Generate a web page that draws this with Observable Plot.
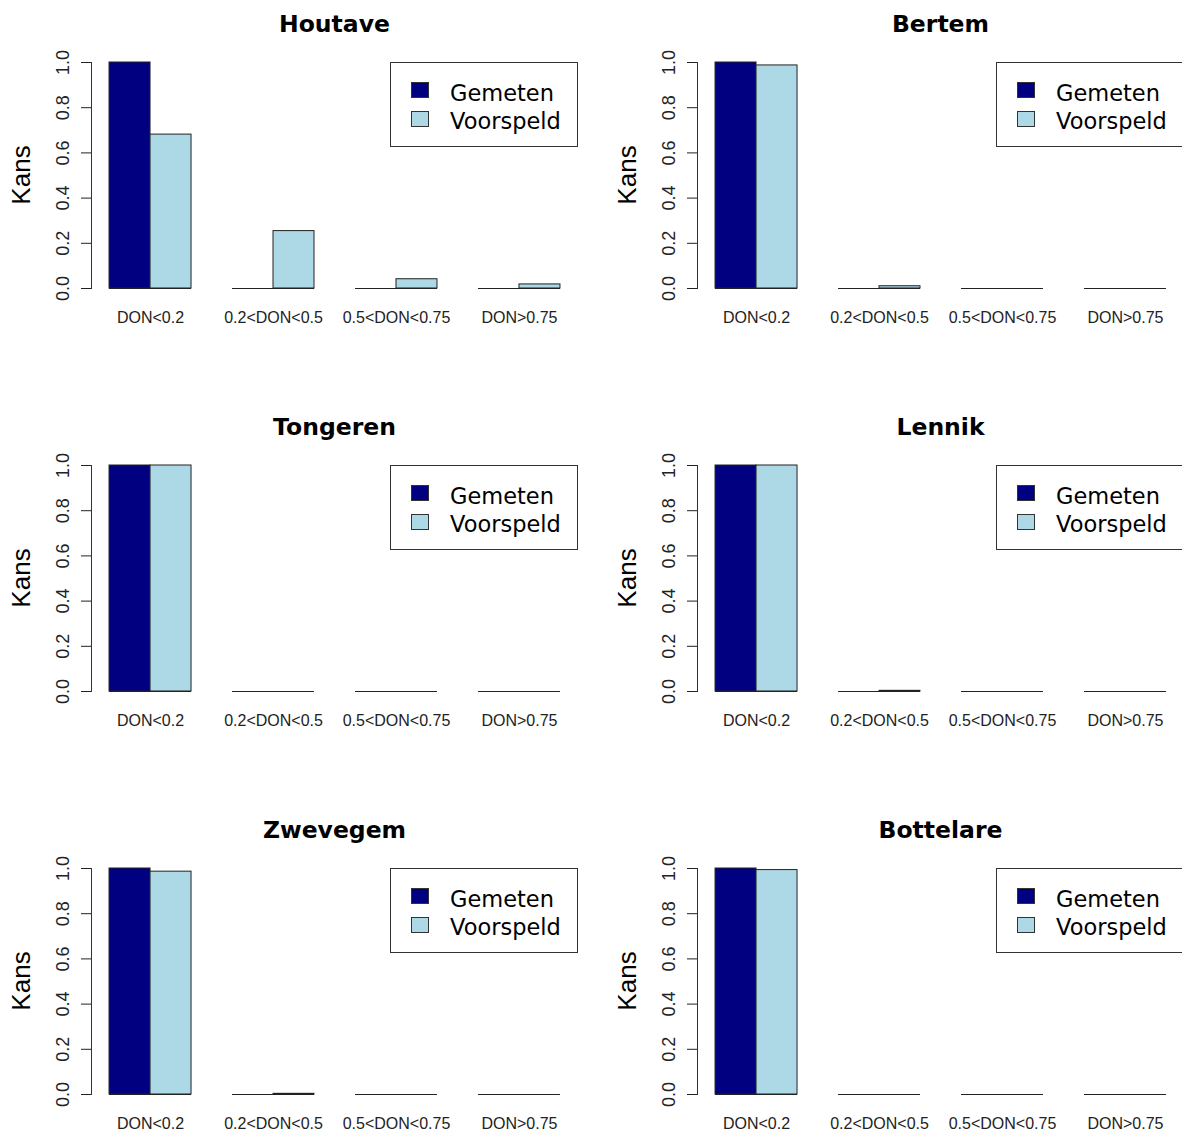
<!DOCTYPE html>
<html><head><meta charset="utf-8">
<script src="https://cdn.jsdelivr.net/npm/d3@7"></script>
<script src="https://cdn.jsdelivr.net/npm/@observablehq/plot@0.6"></script>
<style>
html,body{margin:0;padding:0;background:#fff;}
#root{position:relative;width:1182px;height:1136px;overflow:hidden;background:#fff;}
.panel{position:absolute;width:606px;height:403px;}
.panel svg{position:absolute;left:0;top:0;}
.title{position:absolute;left:91px;width:487px;top:10px;text-align:center;font-family:"DejaVu Sans",sans-serif;font-weight:bold;font-size:23.5px;line-height:normal;color:#000;white-space:nowrap;}
.ylab{position:absolute;left:21px;top:175px;transform:translate(-50%,-50%) rotate(-90deg);font-family:"Liberation Sans",Arial,sans-serif;font-size:26px;line-height:1;color:#000;white-space:nowrap;}
.legend{position:absolute;left:390px;top:62px;width:188px;height:85px;box-sizing:border-box;border:1px solid #333;background:#fff;font-family:"DejaVu Sans",sans-serif;font-size:22.5px;line-height:normal;color:#000;}
.sw{position:absolute;left:20px;width:18px;height:16px;box-sizing:border-box;border:1px solid #333;}
.lt{position:absolute;left:59px;white-space:nowrap;}
</style>
</head><body>
<div id="root"></div>
<script>
const stations = ["Houtave", "Bertem", "Tongeren", "Lennik", "Zwevegem", "Bottelare"];
const categories = ["DON<0.2", "0.2<DON<0.5", "0.5<DON<0.75", "DON>0.75"];
const series = ["Gemeten", "Voorspeld"];
const gemeten = [
  [1, 0, 0, 0],
  [1, 0, 0, 0],
  [1, 0, 0, 0],
  [1, 0, 0, 0],
  [1, 0, 0, 0],
  [1, 0, 0, 0]
];
const voorspeld = [
  [0.681, 0.254, 0.041, 0.018],
  [0.987, 0.01, 0, 0],
  [1, 0, 0, 0],
  [1, 0.003, 0, 0],
  [0.986, 0.003, 0, 0],
  [0.993, 0, 0, 0]
];
const colors = ["#000080", "#add8e6"];
const yTicks = [0, 0.2, 0.4, 0.6, 0.8, 1.0];

const W = 606, H = 403, ML = 91, MR = 28, MT = 62, MB = 115;
const PI = 1 / 3, PO = 0.1467;
const step = (W - ML - MR) / (categories.length - PI + 2 * PO);
const half = step * (1 - PI) / 2;

const root = document.getElementById("root");

stations.forEach((name, i) => {
  const row = Math.floor(i / 2), col = i % 2;
  const panel = document.createElement("div");
  panel.className = "panel";
  panel.style.left = (col * 606) + "px";
  panel.style.top = (row * 403) + "px";
  root.appendChild(panel);

  const rows = [];
  categories.forEach((c, j) => {
    rows.push({category: c, series: series[0], value: gemeten[i][j]});
    rows.push({category: c, series: series[1], value: voorspeld[i][j]});
  });

  const chart = Plot.plot({
    width: W, height: H,
    marginLeft: ML, marginRight: MR, marginTop: MT, marginBottom: MB,
    style: {fontFamily: '"Liberation Sans", Arial, sans-serif', background: "transparent", color: "#222", overflow: "visible"},
    x: {domain: categories, paddingInner: PI, paddingOuter: PO, round: false, align: 0.5, axis: null},
    y: {domain: [0, 1], axis: null},
    color: {domain: series, range: colors},
    marks: [
      Plot.barY(rows.filter(d => d.series === series[0]), {x: "category", y: "value", fill: "series", stroke: "#222", strokeWidth: 1, insetRight: half}),
      Plot.barY(rows.filter(d => d.series === series[1]), {x: "category", y: "value", fill: "series", stroke: "#222", strokeWidth: 1, insetLeft: half}),
      Plot.tickY(categories, {x: d => d, y: () => 0, stroke: "#222", strokeWidth: 1}),
      Plot.frame({anchor: "left", stroke: "#333"}),
      Plot.axisY({ticks: yTicks, tickFormat: d3.format(".1f"), tickSize: 10, tickPadding: 13, tickRotate: -90, fontSize: 18, label: null}),
      Plot.axisX({tickSize: 0, tickPadding: 23, fontSize: 16, label: null})
    ]
  });
  panel.appendChild(chart);

  const title = document.createElement("div");
  title.className = "title";
  title.textContent = name;
  panel.appendChild(title);

  const ylab = document.createElement("div");
  ylab.className = "ylab";
  ylab.textContent = "Kans";
  panel.appendChild(ylab);

  const leg = document.createElement("div");
  leg.className = "legend";
  series.forEach((s, k) => {
    const sw = document.createElement("div");
    sw.className = "sw";
    sw.style.top = (19 + k * 29) + "px";
    sw.style.background = colors[k];
    leg.appendChild(sw);
    const lt = document.createElement("div");
    lt.className = "lt";
    lt.style.top = (17 + k * 28) + "px";
    lt.textContent = s;
    leg.appendChild(lt);
  });
  panel.appendChild(leg);
});
</script>
</body></html>
